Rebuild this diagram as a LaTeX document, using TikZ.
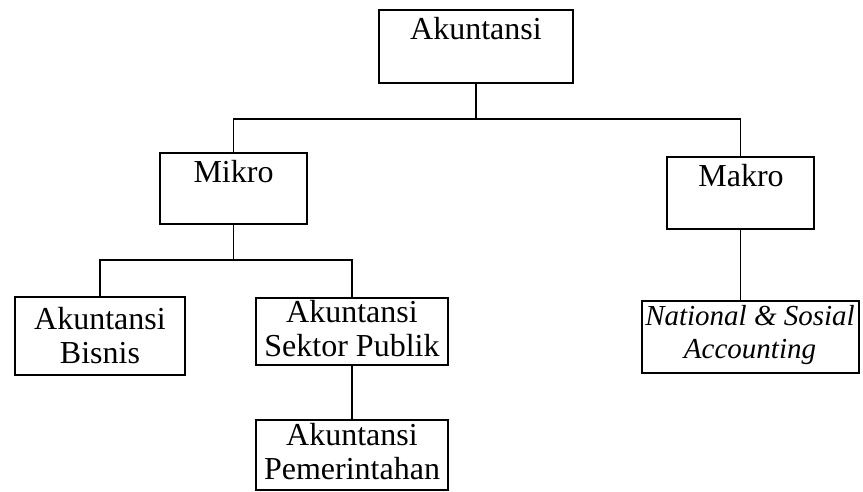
\documentclass[tikz,border=0pt]{standalone}
\usepackage{fontspec}
\setmainfont{Liberation Serif}
\begin{document}
\begin{tikzpicture}[x=1pt,y=-1pt,
  box/.style={draw, line width=1.5pt, rectangle, inner sep=0pt},
  lbl/.style={font=\fontsize{32}{34}\selectfont, align=center, inner sep=0pt},
  conn/.style={line width=1.5pt}]
\useasboundingbox (0,0) rectangle (863,492);
% boxes
\node[box, minimum width=194pt, minimum height=73pt] (akt) at (476,46.5) {};
\node[box, minimum width=147pt, minimum height=71pt] (mik) at (233.5,188.5) {};
\node[box, minimum width=147pt, minimum height=72pt] (mak) at (740.5,193) {};
\node[box, minimum width=170pt, minimum height=78pt] (bis) at (100,336) {};
\node[box, minimum width=192pt, minimum height=67pt] (sek) at (352,331.5) {};
\node[box, minimum width=192pt, minimum height=70pt] (pem) at (352,455) {};
\node[box, minimum width=217pt, minimum height=72pt] (nat) at (750.5,337) {};
% labels
\node[lbl, anchor=base] (takt) at (476,40) {Akuntansi};
\node[lbl, anchor=base] (tmik) at (233.5,183) {Mikro};
\node[lbl, anchor=base] (tmak) at (741,187) {Makro};
\node[lbl, anchor=north] (tbis) at (100,307) {Akuntansi\\Bisnis};
\node[lbl, anchor=north] (tsek) at (352,300) {Akuntansi\\Sektor Publik};
\node[lbl, anchor=north] (tpem) at (352,423) {Akuntansi\\Pemerintahan};
\node[lbl, anchor=north, font=\fontsize{29}{33}\selectfont\itshape] (tnat) at (750,305) {National \& Sosial\\Accounting};
% junctions
\coordinate (j1) at (476,119);
\coordinate (j2) at (233.5,260);
% connectors
\draw[conn] (akt.south) -- (j1);
\draw[conn] (mik.north) |- (j1) -| (mak.north);
\draw[conn] (mik.south) -- (j2);
\draw[conn] (bis.north) |- (j2) -| (sek.north);
\draw[conn] (sek.south) -- (pem.north);
\draw[conn] (mak.south) -- (mak.south |- nat.north);
\end{tikzpicture}
\end{document}
